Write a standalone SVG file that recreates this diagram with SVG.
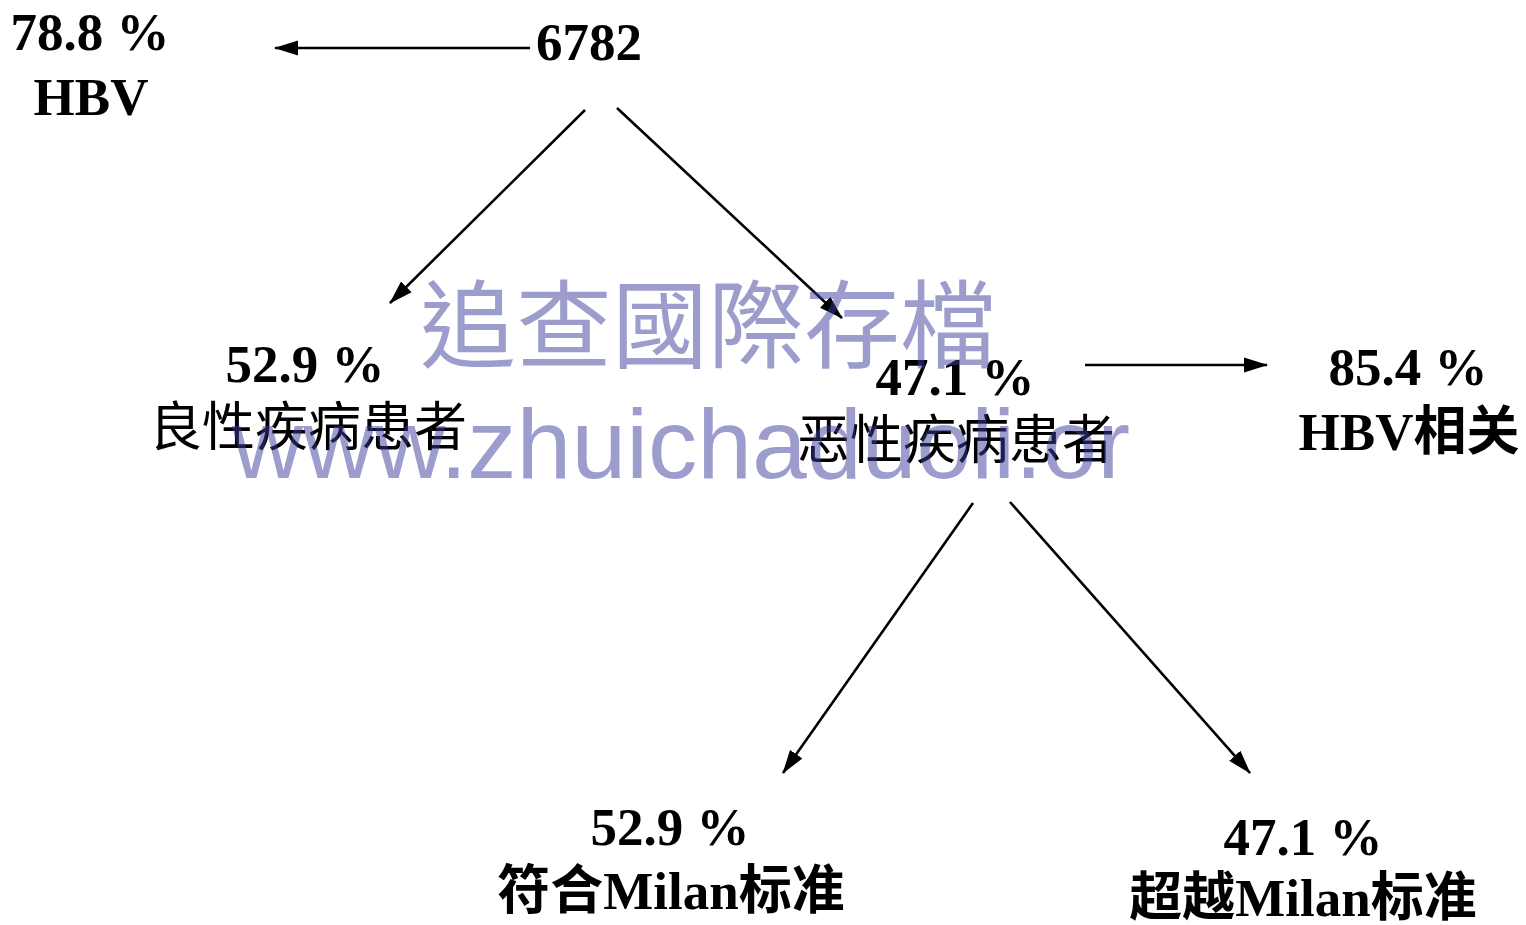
<svg xmlns="http://www.w3.org/2000/svg" width="1526" height="925" viewBox="0 0 1526 925">
<style>
.t{font-family:"Liberation Serif","Noto Sans CJK SC",serif;font-size:53px;fill:#000;text-anchor:middle}
.b{font-weight:bold}
.c{stroke:#000;stroke-width:2.6;fill:none;marker-end:url(#ah)}
.wm{fill:#3c3c9c;fill-opacity:0.5}
</style>
<defs>
<marker id="ah" markerUnits="userSpaceOnUse" markerWidth="24" markerHeight="18" viewBox="0 0 24 18" refX="23" refY="9" orient="auto">
<path d="M0,1.5 L24,9 L0,16.5 z" fill="#000"/>
</marker>
</defs>
<rect width="1526" height="925" fill="#fff"/>
<g id="connectors">
<line class="c" x1="530" y1="48" x2="275" y2="48"/>
<line class="c" x1="585" y1="110" x2="390" y2="303"/>
<line class="c" x1="617" y1="108" x2="842" y2="318"/>
<line class="c" x1="1085" y1="365" x2="1267" y2="365"/>
<line class="c" x1="973" y1="503" x2="783" y2="773"/>
<line class="c" x1="1010" y1="502" x2="1250" y2="773"/>
</g>
<g id="node-hbv-total">
<text class="t b" x="90" y="50">78.8 %</text>
<text class="t b" x="91" y="115">HBV</text>
</g>
<g id="node-root">
<text class="t b" x="589" y="60">6782</text>
</g>
<g id="node-benign">
<text class="t b" x="305" y="382">52.9 %</text>
<text class="t" x="308" y="446">良性疾病患者</text>
</g>
<g id="node-malignant">
<text class="t b" x="955" y="395">47.1 %</text>
<text class="t" x="956" y="459">恶性疾病患者</text>
</g>
<g id="node-hbv-related">
<text class="t b" x="1408" y="385">85.4 %</text>
<text class="t b" x="1409" y="450">HBV相关</text>
</g>
<g id="node-milan-within">
<text class="t b" x="670" y="845">52.9 %</text>
<text class="t b" x="671" y="909">符合Milan标准</text>
</g>
<g id="node-milan-beyond">
<text class="t b" x="1303" y="855">47.1 %</text>
<text class="t b" x="1303" y="916">超越Milan标准</text>
</g>
<g id="watermark">
<text class="wm" x="420" y="360" font-family="'Noto Sans CJK TC','Noto Sans CJK SC',sans-serif" font-size="96" textLength="576" lengthAdjust="spacingAndGlyphs">追查國際存檔</text>
<text class="wm" x="232" y="478" font-family="'Liberation Sans',Arial,sans-serif" font-size="98" textLength="898" lengthAdjust="spacingAndGlyphs">www.zhuichaduoli.or</text>
</g>
</svg>
